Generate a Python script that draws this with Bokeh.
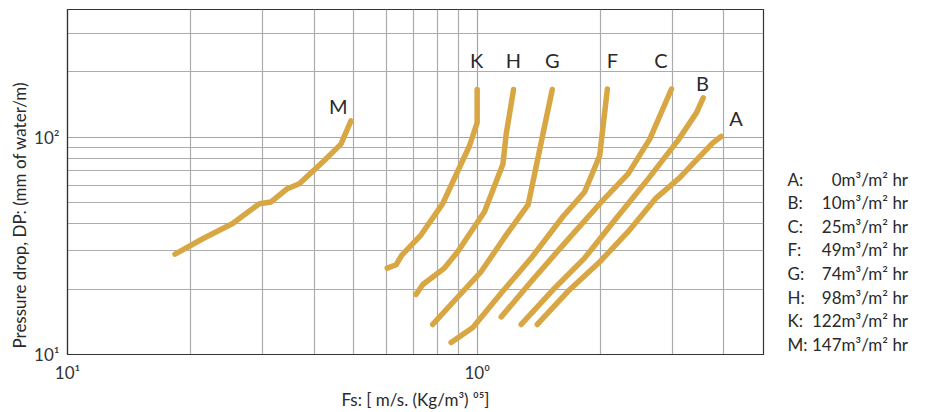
from bokeh.plotting import figure
from bokeh.layouts import row
from bokeh.models import FixedTicker, Title, ColumnDataSource, Range1d
from bokeh.core.properties import value
from bokeh.embed import file_html
from bokeh.resources import INLINE

FONT = "Lato"
CURVE_COLOR = "#D8A642"
TEXT_COLOR = "#2a2a2a"

# ---- data ----
M_x = [0.183, 0.215, 0.253, 0.294, 0.314, 0.344, 0.368, 0.423, 0.465, 0.492]
M_y = [29.0, 34.3, 40.1, 49.5, 50.4, 58.0, 61.1, 78.1, 93.1, 119.0]

K_x = [0.603, 0.634, 0.655, 0.729, 0.824, 0.958, 1.0, 1.0]
K_y = [25.0, 25.9, 28.7, 35.5, 49.5, 91.5, 117.0, 166.0]

H_x = [0.709, 0.737, 0.832, 0.897, 1.042, 1.156, 1.177, 1.227]
H_y = [18.9, 21.0, 25.0, 29.8, 45.4, 75.4, 103.4, 166.0]

G_x = [0.779, 0.897, 1.023, 1.166, 1.332, 1.422, 1.525]
G_y = [13.75, 18.4, 24.1, 34.6, 49.0, 88.3, 166.0]

F_x = [0.864, 0.976, 1.145, 1.355, 1.620, 1.829, 1.991, 2.079]
F_y = [11.35, 13.3, 19.2, 27.8, 43.2, 56.0, 82.3, 167.0]

C_x = [1.145, 1.355, 1.620, 2.010, 2.336, 2.638, 2.981]
C_y = [14.9, 21.7, 31.9, 50.4, 67.9, 98.1, 167.0]

B_x = [1.281, 1.545, 1.829, 2.166, 2.615, 3.095, 3.432, 3.563]
B_y = [13.75, 20.2, 27.8, 41.5, 64.4, 97.1, 130.0, 152.0]

A_x = [1.402, 1.666, 1.999, 2.336, 2.724, 3.118, 3.755, 3.939]
A_y = [13.75, 19.55, 26.9, 36.8, 52.2, 65.1, 94.1, 100.9]

curve_names = ["M", "K", "H", "G", "F", "C", "B", "A"]
curve_label_x = [0.458, 0.997, 1.225, 1.525, 2.138, 2.81, 3.549, 4.286]
curve_label_y = [138.9, 226.5, 226.5, 226.5, 226.5, 226.5, 177.8, 122.4]

legend_letters = ["A:", "B:", "C:", "F:", "G:", "H:", "K:", "M:"]
legend_rates = ["0", "10", "25", "49", "74", "98", "122", "147"]
legend_unit = "m³/m² hr"

x_major = [0.1, 1]
x_minor = [0.2, 0.3, 0.4, 0.5, 0.6, 0.7, 0.8, 0.9, 2, 3, 4]
x_tick_labels = {0.1: "10¹", 1: "10⁰"}
y_major = [10, 100]
y_minor = [20, 30, 40, 50, 60, 70, 80, 90, 200, 300]
y_tick_labels = {10: "10¹", 100: "10²"}

x_title = "Fs: [ m/s. (Kg/m³) ⁰⁵]"
y_title = "Pressure drop, DP: (mm of water/m)"

TOP, BOTTOM = 9, 55  # borders shared by both panels

# ---- main chart ----
p = figure(width=775, height=412, x_axis_type="log", y_axis_type="log",
           x_range=(0.1, 5), y_range=(10, 388),
           output_backend="svg", toolbar_location=None,
           min_border_left=67, min_border_right=12,
           min_border_top=TOP, min_border_bottom=BOTTOM)

p.background_fill_color = "white"
p.border_fill_color = "white"
p.outline_line_color = "#333333"
p.outline_line_width = 1.2

p.xaxis.ticker = FixedTicker(ticks=x_major, minor_ticks=x_minor)
p.yaxis.ticker = FixedTicker(ticks=y_major, minor_ticks=y_minor)
p.xaxis.major_label_overrides = x_tick_labels
p.yaxis.major_label_overrides = y_tick_labels

for ax in (p.xaxis, p.yaxis):
    ax.major_tick_line_color = None
    ax.minor_tick_line_color = None
    ax.axis_line_color = "#333333"
    ax.axis_line_width = 1.2
    ax.major_label_text_font = FONT
    ax.major_label_text_font_size = "17px"
    ax.major_label_text_color = "#333333"
p.xaxis.major_label_standoff = 1
p.yaxis.major_label_standoff = 2

p.xaxis.axis_label = x_title
p.xaxis.axis_label_text_font = FONT
p.xaxis.axis_label_text_font_size = "17px"
p.xaxis.axis_label_text_font_style = "normal"
p.xaxis.axis_label_text_color = TEXT_COLOR
p.xaxis.axis_label_standoff = 3

p.add_layout(Title(text=y_title, align="left", offset=6, text_font=FONT,
                   text_font_size="17px", text_font_style="normal",
                   text_color=TEXT_COLOR, standoff=4), "left")

for g in (p.xgrid, p.ygrid):
    g.grid_line_color = "#a4a4a4"
    g.grid_line_width = 1.2
    g.minor_grid_line_color = "#acacac"
    g.minor_grid_line_width = 1.2

series = [(M_x, M_y), (K_x, K_y), (H_x, H_y), (G_x, G_y),
          (F_x, F_y), (C_x, C_y), (B_x, B_y), (A_x, A_y)]
for xs, ys in series:
    p.line(xs, ys, line_color=CURVE_COLOR, line_width=5.5,
           line_cap="round", line_join="round")

lab_src = ColumnDataSource(dict(x=curve_label_x, y=curve_label_y, t=curve_names))
p.text(x="x", y="y", text="t", source=lab_src, text_font=value(FONT),
       text_font_size="20px", text_color=TEXT_COLOR,
       text_align="center", text_baseline="middle")

# ---- legend panel (pixel-space figure, same vertical borders as the chart) ----
leg = figure(width=158, height=412, x_range=Range1d(0, 158),
             y_range=Range1d(412 - BOTTOM, TOP),
             output_backend="svg", toolbar_location=None,
             x_axis_location=None, y_axis_location=None,
             min_border_left=0, min_border_right=0,
             min_border_top=TOP, min_border_bottom=BOTTOM,
             outline_line_color=None)
leg.xgrid.visible = False
leg.ygrid.visible = False
leg.background_fill_color = "white"
leg.border_fill_color = "white"

n = len(legend_letters)
row_y = [180 + 23.8 * i for i in range(n)]
leg_src = ColumnDataSource(dict(
    y=row_y, letter=legend_letters, rate=legend_rates, unit=[legend_unit] * n,
    xl=[12] * n, xn=[66] * n))
common = dict(source=leg_src, text_font=value(FONT), text_font_size="17px",
              text_color=TEXT_COLOR, text_baseline="middle")
leg.text(x="xl", y="y", text="letter", text_align="left", **common)
leg.text(x="xn", y="y", text="rate", text_align="right", **common)
leg.text(x="xn", y="y", text="unit", text_align="left", **common)

layout = row(p, leg, spacing=0)
open("out.html", "w").write(file_html(layout, INLINE))
